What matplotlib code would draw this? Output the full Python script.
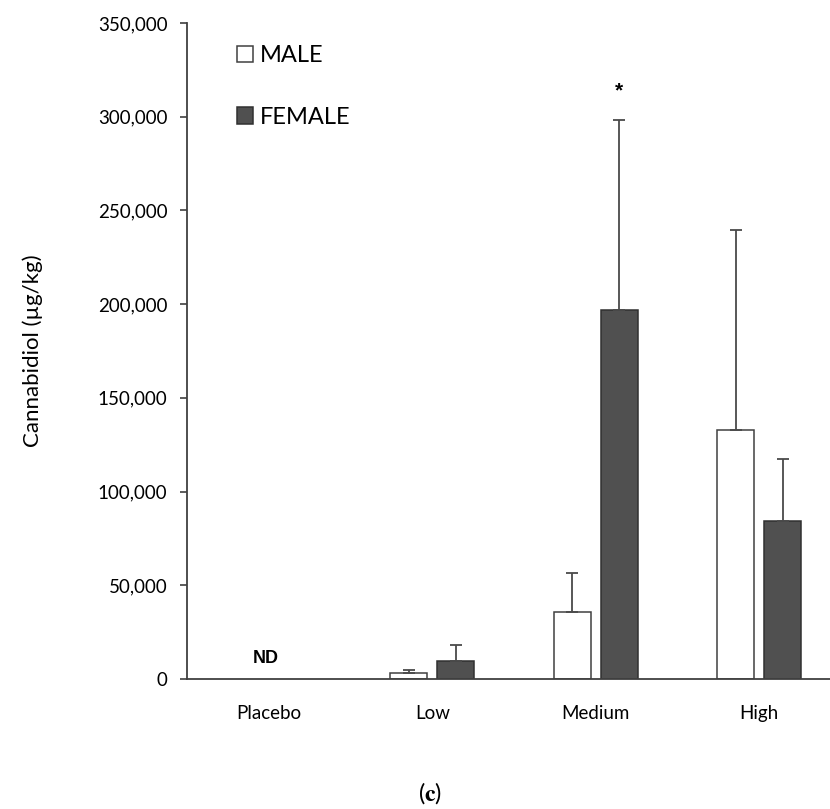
import matplotlib
matplotlib.use("Agg")
import matplotlib.pyplot as plt
from matplotlib.patches import Rectangle
from matplotlib.ticker import FuncFormatter
import numpy as np

plt.rcParams['font.family'] = ['Lato', 'DejaVu Sans']
plt.rcParams['mathtext.fontset'] = 'stix'

doses = ["Placebo", "Low", "Medium", "High"]
# placebo: not detected (ND)
male_mean = [np.nan, 3400, 35600, 133000]
male_sd = [np.nan, 1300, 20800, 106500]
female_mean = [np.nan, 9400, 197000, 84400]
female_sd = [np.nan, 8700, 101200, 33000]
yticks = [0, 50000, 100000, 150000, 200000, 250000, 300000, 350000]

fig = plt.figure(figsize=(8.3, 8.09), dpi=100)
ax = fig.add_axes([0.2253, 0.1607, 0.7880, 0.8109])

x = np.arange(len(doses))
width = 0.226
off = 0.143
zeros = np.zeros(len(doses))

err_kw = dict(ecolor="#4a4a4a", elinewidth=1.3, capsize=4, capthick=1.3)
ax.bar(x - off, male_mean, width, yerr=[zeros, male_sd], color="white",
       edgecolor="#404040", linewidth=1.1, error_kw=err_kw)
ax.bar(x + off, female_mean, width, yerr=[zeros, female_sd], color="#505050",
       edgecolor="#303030", linewidth=1.1, error_kw=err_kw)

ax.text(-0.02, 10700, "ND", ha="center", va="center", fontsize=13,
        fontweight="bold", family="Liberation Sans")
ax.text(2 + off, 313700, "*", ha="center", va="center", fontsize=15,
        fontweight="bold", family="Liberation Sans")

ax.set_xlim(-0.5, 3.5)
ax.set_ylim(0, 350000)
ax.set_yticks(yticks)
ax.yaxis.set_major_formatter(FuncFormatter(lambda v, p: f"{int(v):,}"))
ax.set_xticks(x)
ax.set_xticklabels(doses)
ax.tick_params(axis="x", length=0, pad=19, labelsize=13.5)
ax.tick_params(axis="y", length=5, width=1.2, pad=9, labelsize=13.5,
               color="#404040", direction="out")

for side in ["top", "right"]:
    ax.spines[side].set_visible(False)
for side in ["left", "bottom"]:
    ax.spines[side].set_color("#404040")
    ax.spines[side].set_linewidth(1.3)

ax.set_ylabel("Cannabidiol (µg/kg)", fontsize=16)
ax.yaxis.set_label_coords(-0.22, 0.5)

handles = [Rectangle((0, 0), 1, 1, facecolor="white", edgecolor="#404040", linewidth=1.1),
           Rectangle((0, 0), 1, 1, facecolor="#505050", edgecolor="#303030", linewidth=1.1)]
ax.legend(handles, ["MALE", "FEMALE"], frameon=False, fontsize=17,
          handlelength=0.7, handleheight=0.7, handletextpad=0.3,
          labelspacing=1.71, loc="upper left",
          bbox_to_anchor=(0.285, 0.944), bbox_transform=fig.transFigure,
          borderpad=0, borderaxespad=0)

fig.text(0.518, 0.02, r"($\mathbf{c}$)", ha="center", va="center", fontsize=17)

fig.savefig("out.png", dpi=100)
